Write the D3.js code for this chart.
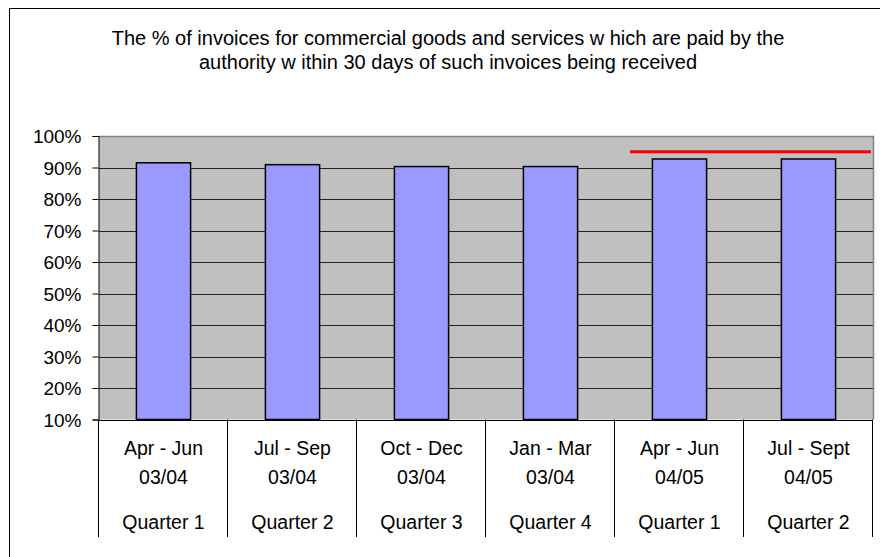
<!DOCTYPE html>
<html>
<head>
<meta charset="utf-8">
<script src="https://cdn.jsdelivr.net/npm/d3@7"></script>
<style>
  html, body { margin: 0; padding: 0; background: #fff; }
  svg { display: block; }
  text { font-family: "Liberation Sans", Arial, sans-serif; fill: #000; }
</style>
</head>
<body>
<svg id="chart" width="880" height="557"></svg>
<script>
// Quarterly invoice-payment performance
const periods  = ["Apr - Jun", "Jul - Sep", "Oct - Dec", "Jan - Mar", "Apr - Jun", "Jul - Sept"];
const years    = ["03/04", "03/04", "03/04", "03/04", "04/05", "04/05"];
const quarters = ["Quarter 1", "Quarter 2", "Quarter 3", "Quarter 4", "Quarter 1", "Quarter 2"];
const paidPct  = [0.915, 0.909, 0.903, 0.903, 0.927, 0.927];
const target   = 0.95;
const targetFrom = 4;          // target line starts in this category
const yTicks   = [0.1, 0.2, 0.3, 0.4, 0.5, 0.6, 0.7, 0.8, 0.9, 1.0];
const titleLines = [
  "The % of invoices for commercial goods and services w hich are paid by the",
  "authority w ithin 30 days of such invoices being received"
];

const svg = d3.select("#chart");
const plot = { left: 99, right: 873, top: 136, bottom: 419.5 };

// chart frame
svg.append("rect")
  .attr("x", 9.5).attr("y", 8.5)
  .attr("width", 890).attr("height", 560)
  .attr("fill", "#fff").attr("stroke", "#000").attr("stroke-width", 1);

// title
svg.append("g").selectAll("text").data(titleLines).join("text")
  .attr("x", 448).attr("y", (d, i) => 45 + i * 23.5)
  .attr("text-anchor", "middle")
  .style("font-size", "20px")
  .text(d => d);

const cells = d3.scaleBand().domain(d3.range(periods.length))
  .range([plot.left, plot.right]);
const x = d3.scaleBand().domain(d3.range(periods.length))
  .range([plot.left, plot.right]).paddingInner(0.58).paddingOuter(0.29);
const y = d3.scaleLinear().domain([0.1, 1.0]).range([plot.bottom, plot.top]);
const crisp = v => Math.round(v) + 0.5;

// plot background
svg.append("rect")
  .attr("x", plot.left).attr("y", plot.top)
  .attr("width", plot.right - plot.left).attr("height", plot.bottom - plot.top)
  .attr("fill", "#c0c0c0");

// gridlines
svg.append("g").selectAll("line").data(yTicks.slice(1, -1)).join("line")
  .attr("x1", plot.left).attr("x2", plot.right)
  .attr("y1", d => crisp(y(d))).attr("y2", d => crisp(y(d)))
  .attr("stroke", "#222").attr("stroke-width", 1);

// plot border (top / right)
svg.append("path")
  .attr("d", `M${plot.left},${crisp(plot.top)}H${crisp(plot.right)}V${plot.bottom}`)
  .attr("fill", "none").attr("stroke", "#808080").attr("stroke-width", 1.5);

// bars
svg.append("g").selectAll("rect").data(paidPct).join("rect")
  .attr("x", (d, i) => x(i)).attr("width", x.bandwidth())
  .attr("y", d => y(d)).attr("height", d => y(0.1) - y(d))
  .attr("fill", "#9999ff").attr("stroke", "#000").attr("stroke-width", 1.5);

// target line
svg.append("line")
  .attr("x1", cells(targetFrom) + cells.step() * 0.116).attr("x2", plot.right - 2)
  .attr("y1", y(target)).attr("y2", y(target))
  .attr("stroke", "#ff0000").attr("stroke-width", 3);

// value axis
const yAxis = d3.axisLeft(y).tickValues(yTicks).tickFormat(d3.format(".0%"))
  .tickSize(6).tickPadding(11);
const gy = svg.append("g").attr("transform", `translate(${crisp(plot.left) - 1},0)`).call(yAxis);
gy.select(".domain").attr("stroke", "#000");
gy.selectAll(".tick line").attr("stroke", "#000");
gy.selectAll(".tick text")
  .style("font-size", "19px").style("font-family", '"Liberation Sans", Arial, sans-serif')
  .attr("dy", "0.36em");

// category axis
const gx = svg.append("g");
gx.append("line")
  .attr("x1", plot.left).attr("x2", plot.right)
  .attr("y1", crisp(plot.bottom)).attr("y2", crisp(plot.bottom))
  .attr("stroke", "#000");
const dividers = d3.range(periods.length + 1).map(i => plot.left + i * cells.step());
gx.selectAll("line.div").data(dividers).join("line").attr("class", "div")
  .attr("x1", d => crisp(d) - 1).attr("x2", d => crisp(d) - 1)
  .attr("y1", plot.bottom).attr("y2", 537)
  .attr("stroke", "#000");

const labelRows = [periods, years, quarters];
const rowY = [455, 484, 528.5];
labelRows.forEach((row, r) => {
  gx.append("g").selectAll("text").data(row).join("text")
    .attr("x", (d, i) => cells(i) + cells.bandwidth() / 2)
    .attr("y", rowY[r])
    .attr("text-anchor", "middle")
    .style("font-size", "19.5px")
    .text(d => d);
});
</script>
</body>
</html>
